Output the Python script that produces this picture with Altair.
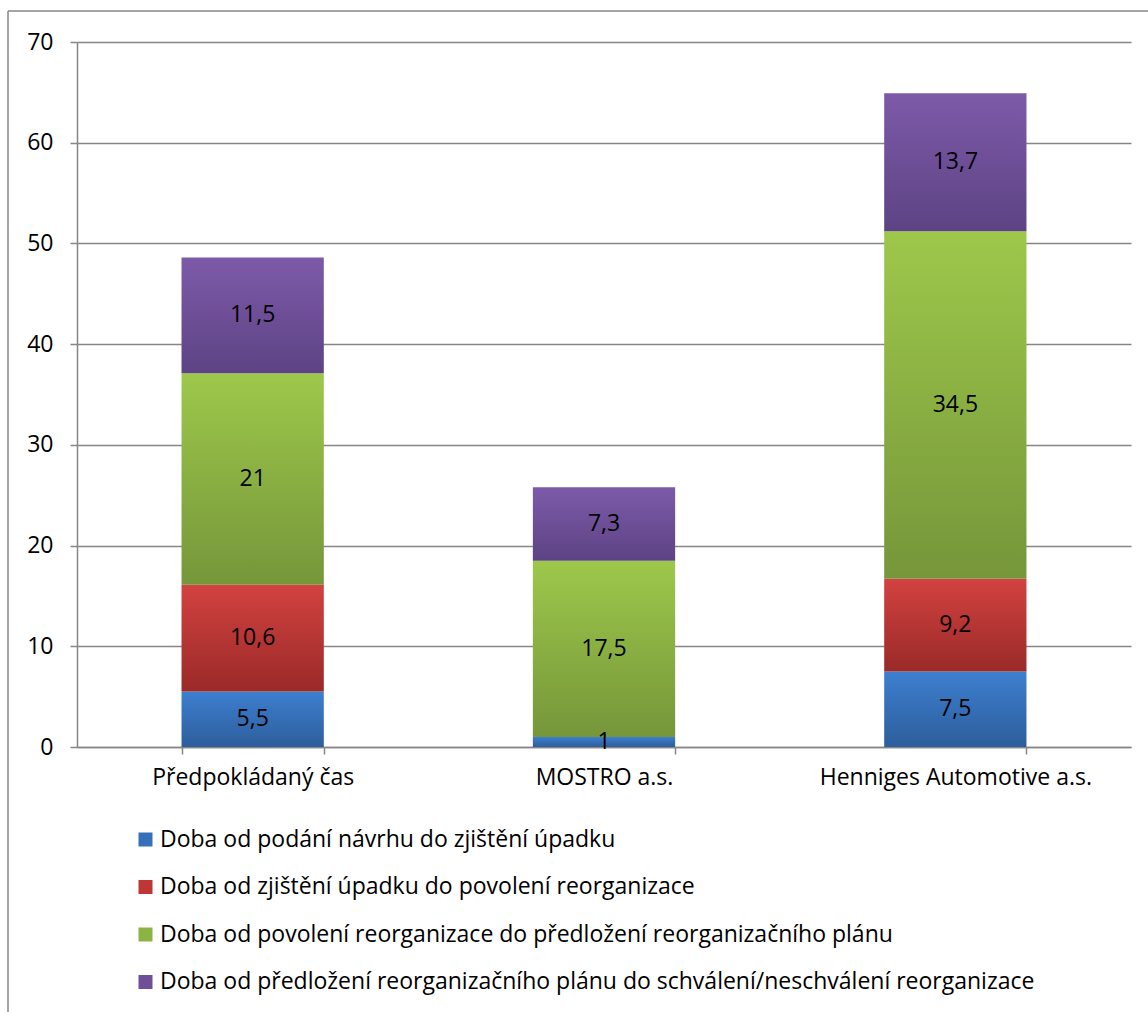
import altair as alt
import pandas as pd

categories = ["Předpokládaný čas", "MOSTRO a.s.", "Henniges Automotive a.s."]
series = [
    "Doba od podání návrhu do zjištění úpadku",
    "Doba od zjištění úpadku do povolení reorganizace",
    "Doba od povolení reorganizace do předložení reorganizačního plánu",
    "Doba od předložení reorganizačního plánu do schválení/neschválení reorganizace",
]
s1 = [5.5, 1, 7.5]
s2 = [10.6, 0, 9.2]
s3 = [21, 17.5, 34.5]
s4 = [11.5, 7.3, 13.7]
values = [s1, s2, s3, s4]

grad_top = ["#3d7fcf", "#d24240", "#9dc84b", "#7d5aa9"]
grad_bot = ["#2d5e9c", "#9a2a28", "#76963a", "#5d4384"]
legend_colors = ["#3670b8", "#bf3735", "#8cb444", "#6e4f98"]

rows = []
for i, (s, vals) in enumerate(zip(series, values)):
    for c, v in zip(categories, vals):
        rows.append({"category": c, "series": s, "order": i, "value": v,
                     "label": f"{v:g}".replace(".", ",")})
df = pd.DataFrame(rows)

FONT = "Open Sans"
FS = 23

W, H = 1054, 705

x_enc = alt.X(
    "category:N", sort=categories, title=None,
    scale=alt.Scale(paddingInner=0.595, paddingOuter=0.2975),
    axis=alt.Axis(labelAngle=0, tickBand="extent", tickSize=7, labelPadding=12,
                  labelFontSize=FS, labelFont=FONT, labelColor="#000000", labelLimit=1000,
                  domainColor="#868686", tickColor="#868686", domainWidth=1.5, tickWidth=1.5),
)
y_scale = alt.Scale(domain=[0, 70], nice=False)
y_axis = alt.Axis(values=[0, 10, 20, 30, 40, 50, 60, 70], tickSize=7, labelPadding=17,
                  labelFontSize=FS, labelFont=FONT, labelColor="#000000",
                  domainColor="#868686", tickColor="#868686", domainWidth=1.5, tickWidth=1.5,
                  gridColor="#868686", gridWidth=1.5, title=None)

base = alt.Chart(df).transform_stack(
    stack="value", groupby=["category"], as_=["y0", "y1"],
    sort=[alt.SortField("order", order="ascending")],
)

layers = []
for i in range(len(series)):
    grad = alt.Gradient(
        gradient="linear", x1=0, x2=0, y1=0, y2=1,
        stops=[alt.GradientStop(color=grad_top[i], offset=0),
               alt.GradientStop(color=grad_bot[i], offset=1)],
    )
    layers.append(
        base.transform_filter(alt.datum.order == i).mark_bar(color=grad).encode(
            x=x_enc,
            y=alt.Y("y0:Q", scale=y_scale, axis=y_axis),
            y2="y1:Q",
        )
    )

legend_layer = base.mark_square(opacity=0, size=10).encode(
    x=x_enc,
    y=alt.Y("y1:Q", scale=y_scale),
    color=alt.Color(
        "series:N", sort=series,
        scale=alt.Scale(domain=series, range=legend_colors),
        legend=alt.Legend(
            title=None, orient="none", legendX=57, legendY=786,
            direction="vertical", symbolType="square", symbolSize=196,
            symbolOpacity=1, symbolStrokeWidth=0, labelFontSize=FS, labelFont=FONT,
            labelColor="#000000", rowPadding=23.5, labelLimit=1000, labelOffset=3,
        ),
    ),
)

text_layer = base.transform_filter(alt.datum.value > 0).transform_calculate(
    mid="(datum.y0 + datum.y1) / 2"
).mark_text(fontSize=FS, font=FONT, color="#000000").encode(
    x=x_enc,
    y=alt.Y("mid:Q", scale=y_scale),
    text="label:N",
)

frame_df = pd.DataFrame({"k": [0]})
frame_v = alt.Chart(frame_df).mark_rule(color="#868686", strokeWidth=1.5).encode(
    x=alt.value(-69), y=alt.value(-31), y2=alt.value(H + 300)
)
frame_h = alt.Chart(frame_df).mark_rule(color="#868686", strokeWidth=1.5).encode(
    x=alt.value(-69), x2=alt.value(W + 100), y=alt.value(-31)
)

chart = alt.layer(frame_v, frame_h, *layers, text_layer, legend_layer).properties(
    width=W, height=H,
    padding={"left": 77, "top": 42, "right": 17, "bottom": 265},
    autosize=alt.AutoSizeParams(type="none"),
    background="#ffffff",
).configure_view(stroke=None).configure_axisX(grid=False)

chart.save("out.html", embed_options={"renderer": "svg", "actions": False})
